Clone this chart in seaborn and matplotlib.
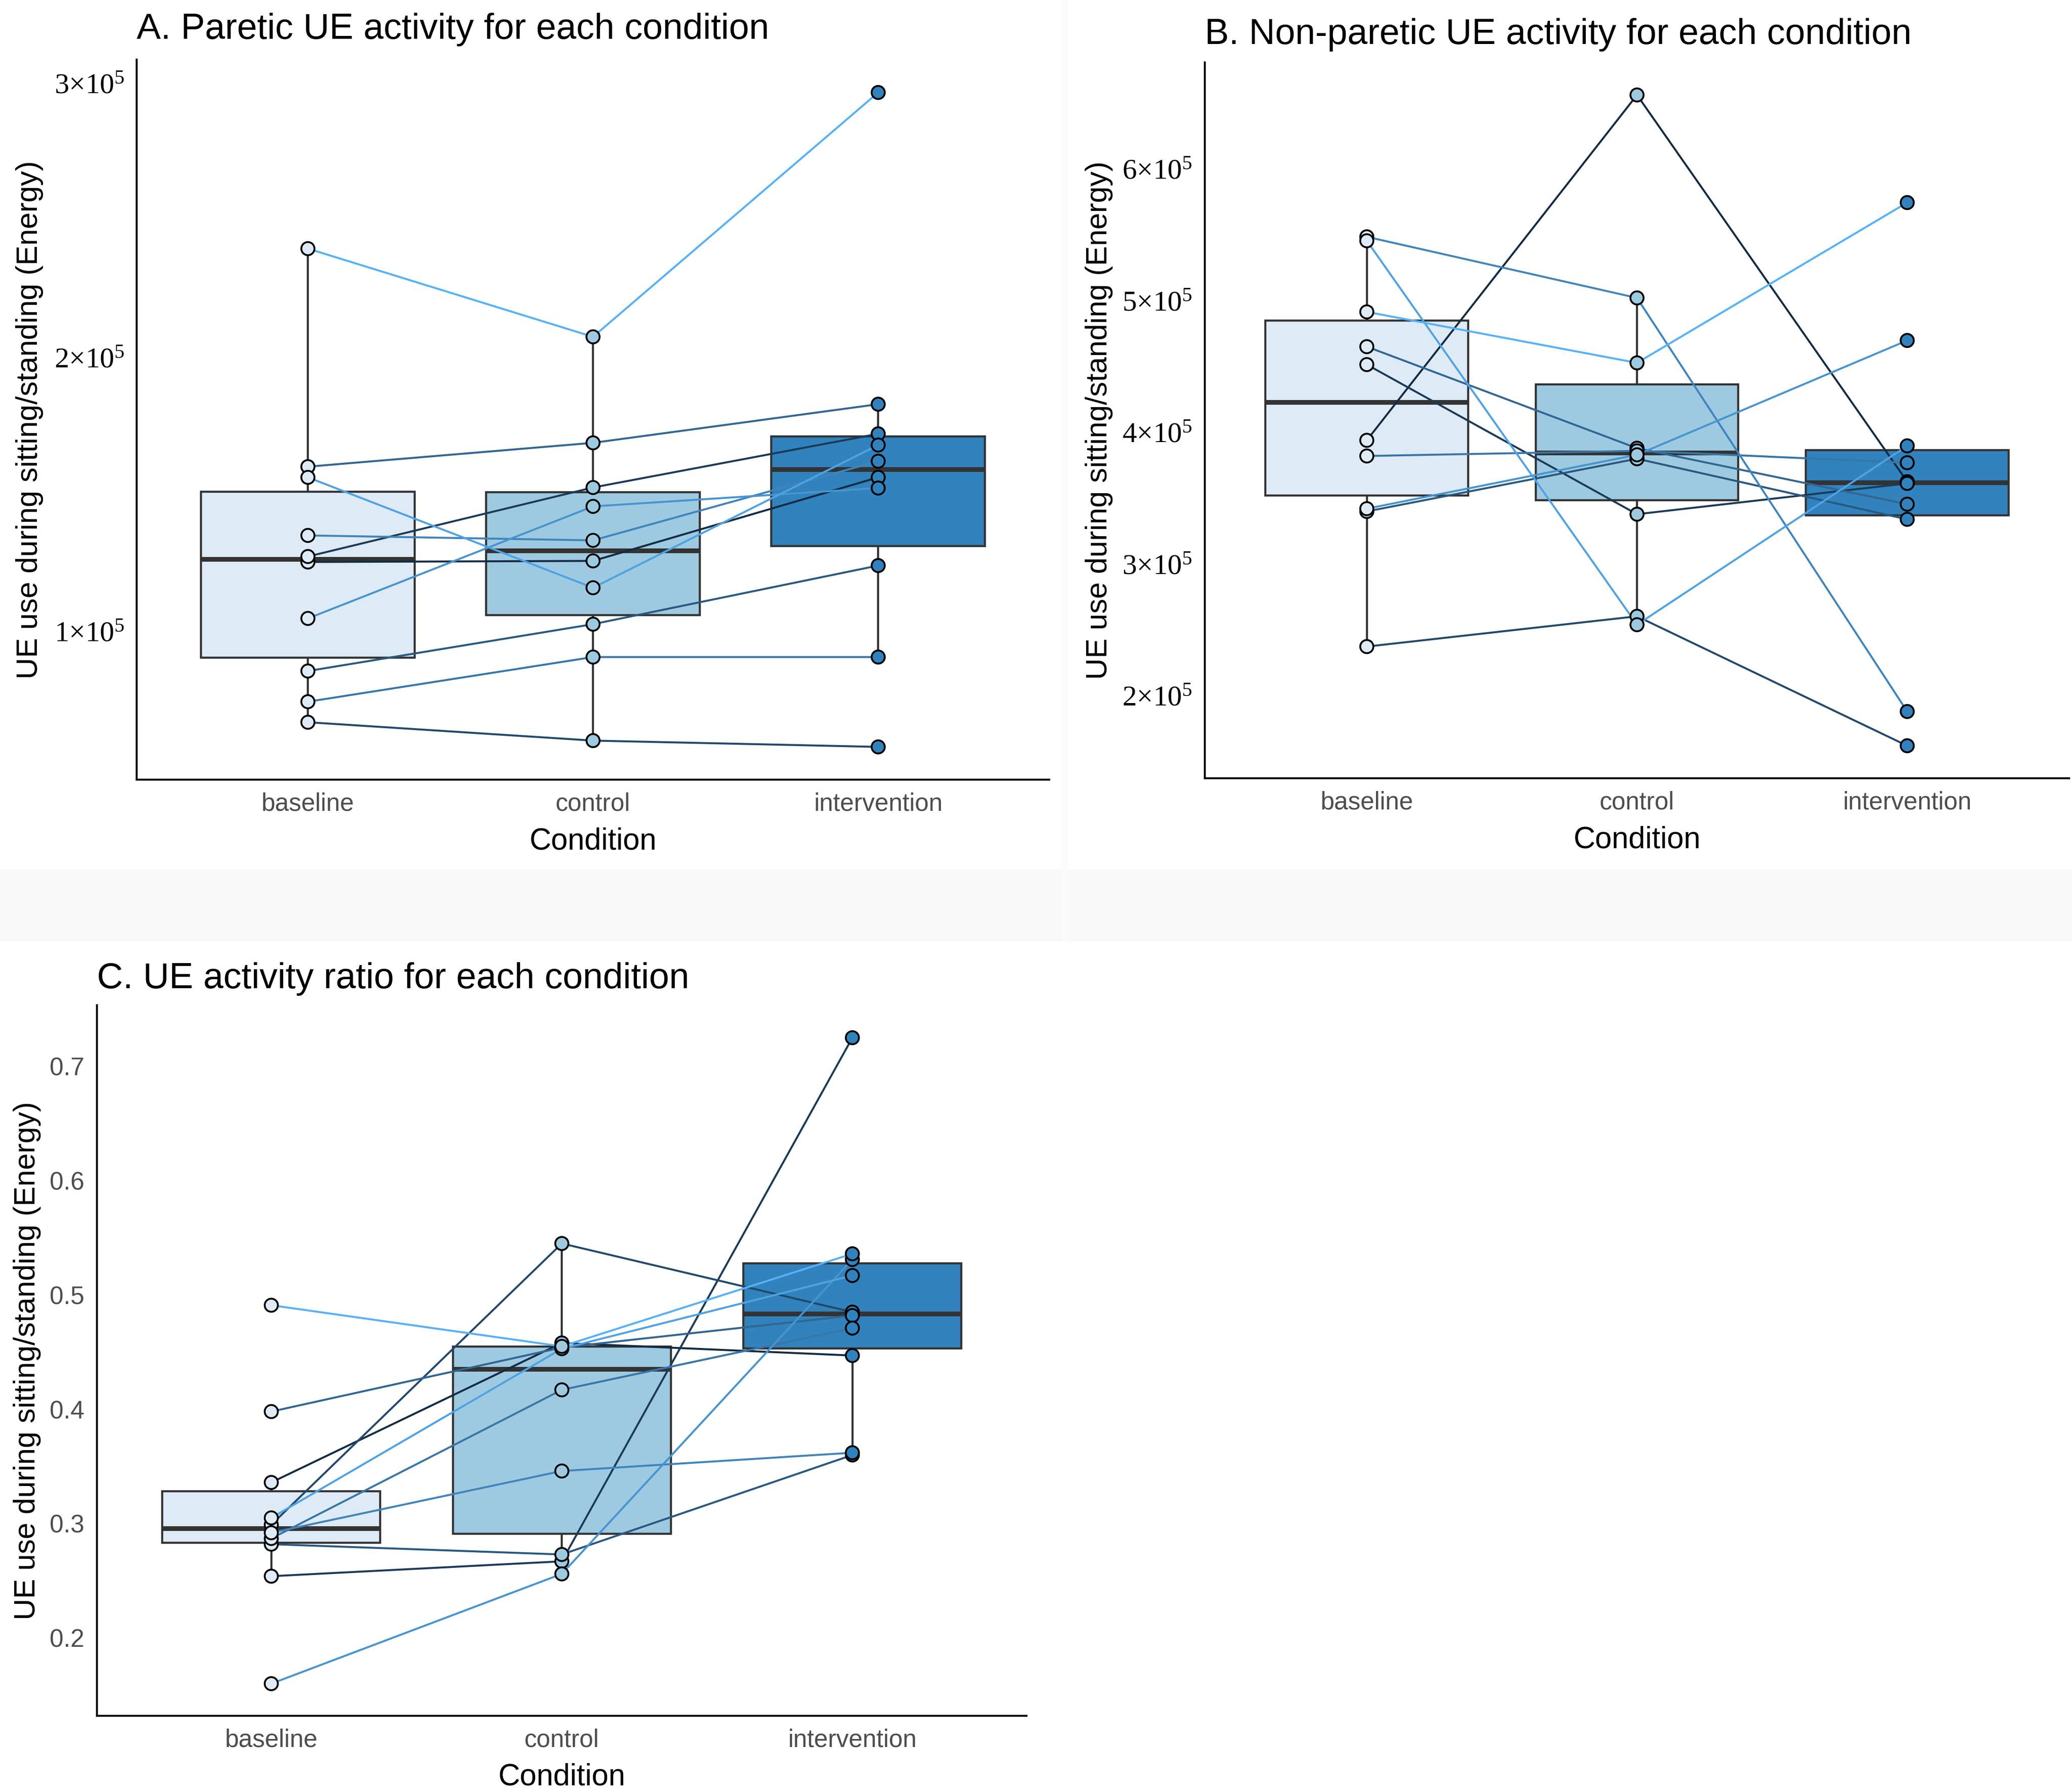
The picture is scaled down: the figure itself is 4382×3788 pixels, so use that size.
"""Boxplots of UE activity per condition with per-subject trajectories."""

import numpy as np
import pandas as pd
import matplotlib
matplotlib.use("Agg")
import matplotlib.pyplot as plt
import seaborn as sns
from matplotlib import font_manager
from matplotlib.colors import LinearSegmentedColormap
from matplotlib.patches import Rectangle

conditions = ["baseline", "control", "intervention"]
subjects = list(range(1, 11))

# A. paretic UE activity, one entry per subject (subject 1 darkest line)
paretic_baseline = [1.253e5, 1.273e5, 0.668e5, 0.855e5, 1.601e5, 0.743e5, 1.350e5, 1.047e5, 1.562e5, 2.397e5]
paretic_control = [1.257e5, 1.525e5, 0.601e5, 1.026e5, 1.688e5, 0.906e5, 1.332e5, 1.456e5, 1.159e5, 2.075e5]
paretic_intervention = [1.562e5, 1.721e5, 0.578e5, 1.240e5, 1.829e5, 0.906e5, 1.621e5, 1.523e5, 1.680e5, 2.967e5]

# B. non-paretic UE activity
nonparetic_baseline = [3.94e5, 4.515e5, 2.374e5, 3.40e5, 4.651e5, 3.821e5, 5.485e5, 3.421e5, 5.455e5, 4.915e5]
nonparetic_control = [6.562e5, 3.379e5, 2.604e5, 3.80e5, 3.88e5, 3.86e5, 5.021e5, 3.83e5, 2.54e5, 4.528e5]
nonparetic_intervention = [3.626e5, 3.613e5, 1.621e5, 3.34e5, 3.455e5, 3.77e5, 1.881e5, 4.698e5, 3.898e5, 5.745e5]

# C. activity ratio
ratio_baseline = [0.336, 0.254, 0.299, 0.282, 0.398, 0.287, 0.292, 0.160, 0.305, 0.491]
ratio_control = [0.458, 0.267, 0.545, 0.273, 0.454, 0.417, 0.346, 0.256, 0.453, 0.455]
ratio_intervention = [0.447, 0.725, 0.485, 0.360, 0.482, 0.471, 0.362, 0.531, 0.517, 0.536]

sci_ticks_a = [1e5, 2e5, 3e5]
sci_ticks_b = [2e5, 3e5, 4e5, 5e5, 6e5]
ratio_ticks = [0.2, 0.3, 0.4, 0.5, 0.6, 0.7]

box_palette = ["#DEEBF7", "#9ECAE1", "#3182BD"]
subject_cmap = LinearSegmentedColormap.from_list("subj", ["#132B43", "#56B1F7"])
subject_colors = {s: subject_cmap((s - 1) / 9) for s in subjects}

YLABEL = "UE use during sitting/standing (Energy)"


def has_font(name):
    try:
        font_manager.findfont(name, fallback_to_default=False)
        return True
    except Exception:
        return False


# narrow sans for the tick labels when available
if has_font("Liberation Sans Narrow"):
    TICK_FONT, TICK_SIZE = "Liberation Sans Narrow", 22
else:
    TICK_FONT, TICK_SIZE = "Liberation Sans", 19


def make_frame(base, ctrl, interv):
    rows = []
    for i, cond in enumerate(conditions):
        vals = [base, ctrl, interv][i]
        for s, v in zip(subjects, vals):
            rows.append({"subject": s, "condition": cond, "xpos": i, "value": v})
    return pd.DataFrame(rows)


def sci_label(v):
    m = int(round(v / 1e5))
    return f"{m}\u00d710$^{{5}}$"


def draw_panel(ax, df, title, yticks, ylabels, title_pad, ylab_x, sci=False):
    sns.boxplot(data=df, x="condition", y="value", order=conditions,
                hue="condition", hue_order=conditions, palette=box_palette,
                saturation=1, width=0.75, showfliers=False, showcaps=False,
                linecolor="#333333", linewidth=1.6,
                medianprops=dict(linewidth=3.6, color="#333333"),
                whiskerprops=dict(linewidth=1.6, color="#333333"),
                legend=False, ax=ax)
    sns.lineplot(data=df, x="xpos", y="value", hue="subject",
                 palette=subject_colors, estimator=None, sort=False,
                 linewidth=1.5, legend=False, zorder=3, ax=ax)
    sns.stripplot(data=df, x="condition", y="value", order=conditions,
                  hue="condition", hue_order=conditions, palette=box_palette,
                  jitter=False, size=10, edgecolor="black", linewidth=1.4,
                  legend=False, zorder=4, ax=ax)

    lo, hi = df["value"].min(), df["value"].max()
    pad = (hi - lo) * 0.05
    ax.set_ylim(lo - pad, hi + pad)
    ax.set_xlim(-0.6, 2.6)
    ax.set_xticks([0, 1, 2])
    ax.set_xticklabels(conditions, family=TICK_FONT, fontsize=TICK_SIZE, color="#4D4D4D")
    ax.set_yticks(yticks)
    if sci:
        ax.set_yticklabels(ylabels, family="Liberation Serif", fontsize=22, color="black")
    else:
        ax.set_yticklabels(ylabels, family=TICK_FONT, fontsize=TICK_SIZE, color="#4D4D4D")

    ax.set_title(title, loc="left", fontsize=27.5, pad=title_pad, color="black")
    ax.set_xlabel("Condition", fontsize=23, color="black")
    ax.set_ylabel(YLABEL, fontsize=22.7, color="black")
    ax.xaxis.set_label_coords(0.5, -0.066)
    ax.yaxis.set_label_coords(ylab_x, 0.5)

    sns.despine(ax=ax)
    for side in ["left", "bottom"]:
        ax.spines[side].set_linewidth(1.5)
        ax.spines[side].set_color("black")
    ax.tick_params(axis="both", length=6, width=1.3, color="#333333")
    ax.grid(False)


sns.set_theme(style="white")
plt.rcParams["font.family"] = ["Liberation Sans", "DejaVu Sans"]
plt.rcParams["mathtext.default"] = "regular"

fig = plt.figure(figsize=(4382 / 200, 3788 / 200), dpi=200)
fig.patch.set_facecolor("white")
# light band between the upper and lower rows
fig.patches.append(Rectangle((0, 1 - 708 / 1348.5), 1, 53 / 1348.5,
                             transform=fig.transFigure, color="#F8F8F8", zorder=0))
fig.patches.append(Rectangle((800 / 1560, 1 - 708 / 1348.5), 4 / 1560, 708 / 1348.5,
                             transform=fig.transFigure, color="#FBFBFB", zorder=0))

ax_a = fig.add_axes([103 / 1560, 1 - 587 / 1348.5, 687 / 1560, 542 / 1348.5])
ax_b = fig.add_axes([907 / 1560, 1 - 586 / 1348.5, 651 / 1560, 539 / 1348.5])
ax_c = fig.add_axes([73 / 1560, 1 - 1292 / 1348.5, 700 / 1560, 535 / 1348.5])

df_a = make_frame(paretic_baseline, paretic_control, paretic_intervention)
df_b = make_frame(nonparetic_baseline, nonparetic_control, nonparetic_intervention)
df_c = make_frame(ratio_baseline, ratio_control, ratio_intervention)

draw_panel(ax_a, df_a, "A. Paretic UE activity for each condition",
           sci_ticks_a, [sci_label(v) for v in sci_ticks_a], 16, -0.102, sci=True)
draw_panel(ax_b, df_b, "B. Non-paretic UE activity for each condition",
           sci_ticks_b, [sci_label(v) for v in sci_ticks_b], 14, -0.106, sci=True)
draw_panel(ax_c, df_c, "C. UE activity ratio for each condition",
           ratio_ticks, [f"{v:.1f}" for v in ratio_ticks], 13, -0.06)

fig.savefig("out.png", dpi=200, facecolor=fig.get_facecolor())
